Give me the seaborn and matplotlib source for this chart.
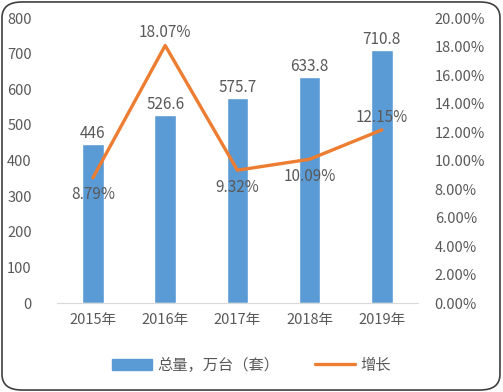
import numpy as np
import matplotlib
matplotlib.use("Agg")
import matplotlib.pyplot as plt
import seaborn as sns
from matplotlib.patches import FancyBboxPatch, Patch
from matplotlib.lines import Line2D
from matplotlib.ticker import FuncFormatter

sns.set_style("white")
plt.rcParams["font.family"] = ["Noto Sans CJK SC", "DejaVu Sans"]

years = ["2015年", "2016年", "2017年", "2018年", "2019年"]
totals = [446, 526.6, 575.7, 633.8, 710.8]
growth = [8.79, 18.07, 9.32, 10.09, 12.15]
growth_above = [False, True, False, False, True]

BAR = "#5B9BD5"
LINE = "#ED7D31"
TXT = "#595959"

fig = plt.figure(figsize=(5.03, 3.92), dpi=100)
ax = fig.add_axes([0.113, 0.227, 0.718, 0.727])
ax2 = ax.twinx()

sns.barplot(x=years, y=totals, color=BAR, width=0.3, saturation=1, ax=ax)
sns.lineplot(x=np.arange(len(years)), y=growth, color=LINE, linewidth=2.4, ax=ax2)

ax.set_xlim(-0.5, 4.5)
ax.set_ylim(0, 800)
ax.set_yticks(range(0, 801, 100))
ax2.set_ylim(0, 20)
ax2.set_yticks(range(0, 21, 2))
ax2.yaxis.set_major_formatter(FuncFormatter(lambda v, p: f"{v:.2f}%"))

for a in (ax, ax2):
    for s in a.spines.values():
        s.set_visible(False)
    a.tick_params(length=0, colors=TXT, labelsize=10.5)
    a.set_xlabel("")
    a.set_ylabel("")
ax.spines["bottom"].set_visible(True)
ax.spines["bottom"].set_color("#D9D9D9")
ax.tick_params(axis="x", pad=7)
ax.tick_params(axis="y", pad=18)
ax2.tick_params(axis="y", pad=12)

for i, v in enumerate(totals):
    ax.text(i, v + 6, f"{v:g}", ha="center", va="bottom", color=TXT, fontsize=11)

for i, (g, up) in enumerate(zip(growth, growth_above)):
    if up:
        ax2.text(i, g + 0.3, f"{g:.2f}%", ha="center", va="bottom", color=TXT, fontsize=11)
    else:
        ax2.text(i, g - 0.6, f"{g:.2f}%", ha="center", va="top", color=TXT, fontsize=11)

handles = [Patch(facecolor=BAR, edgecolor=BAR),
           Line2D([0], [0], color=LINE, linewidth=2.4)]
fig.legend(handles, ["总量，万台（套）", "增长"], loc="center", bbox_to_anchor=(0.5, 0.068),
           ncol=2, frameon=False, fontsize=11, labelcolor=TXT, handlelength=2.6,
           columnspacing=2.3, handletextpad=0.4)

frame = FancyBboxPatch((0.004, 0.005), 0.99, 0.99, boxstyle="round,pad=0,rounding_size=0.04",
                       transform=fig.transFigure, fill=False, edgecolor="#404040", linewidth=1.2)
fig.patches.append(frame)

fig.savefig("out.png", dpi=100)
